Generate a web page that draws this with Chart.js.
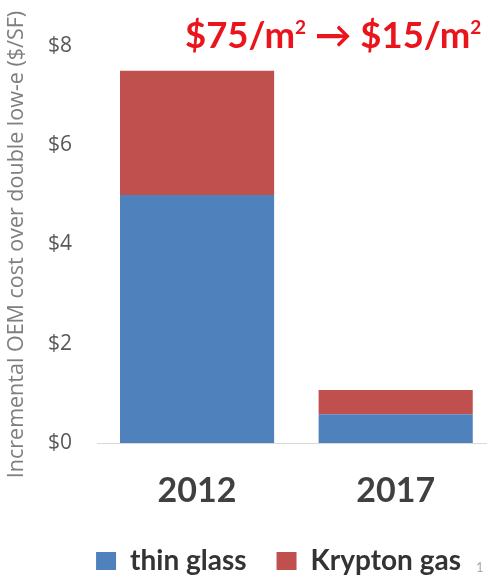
<!DOCTYPE html>
<html>
<head>
<meta charset="utf-8">
<script src="https://cdn.jsdelivr.net/npm/chart.js@4/dist/chart.umd.min.js"></script>
<style>
html,body{margin:0;padding:0;background:#fff;overflow:hidden;}
#wrap{position:relative;width:487px;height:576px;overflow:hidden;}
#title{position:absolute;left:185px;top:13px;font-family:Lato,"Liberation Sans",sans-serif;font-weight:bold;font-size:36.5px;line-height:1.2;color:#ea151c;white-space:nowrap;}
#title sup{font-size:19px;vertical-align:14px;line-height:0;}
#foot{position:absolute;left:476px;top:559px;font-family:Lato,sans-serif;font-size:13px;color:#aaa;}
</style>
</head>
<body>
<div id="wrap">
<canvas id="c" width="495" height="576"></canvas>
<div id="title">$75/m<sup>2</sup> &rarr; $15/m<sup>2</sup></div>
<div id="foot">1</div>
</div>
<script>
const categories = ["2012", "2017"];
const thinGlass = [5.0, 0.58];
const kryptonGas = [2.5, 0.49];
const yTicks = [0, 2, 4, 6, 8];
const yTitle = "Incremental OEM cost over double low-e ($/SF)";

const legendShift = {
  id: 'legendShift',
  afterLayout(chart) {
    const l = chart.legend;
    l.left += 31; l.right += 31;
    l.top += 9; l.bottom += 9;
  }
};

new Chart(document.getElementById('c'), {
  type: 'bar',
  data: {
    labels: categories,
    datasets: [
      {label: 'thin glass', data: thinGlass, backgroundColor: '#4f81bd'},
      {label: 'Krypton gas', data: kryptonGas, backgroundColor: '#c0504d'}
    ]
  },
  plugins: [legendShift],
  options: {
    responsive: false,
    animation: false,
    layout: {padding: {top: 46, right: 0, left: 0, bottom: 0}},
    datasets: {bar: {categoryPercentage: 0.776, barPercentage: 1}},
    plugins: {
      legend: {
        position: 'bottom',
        labels: {
          font: {family: 'Lato', size: 28, weight: 'bold'},
          color: '#333',
          boxWidth: 20, boxHeight: 18, padding: 30
        }
      },
      tooltip: {enabled: false}
    },
    scales: {
      x: {
        stacked: true,
        grid: {display: false},
        border: {color: '#d9d9d9'},
        ticks: {font: {family: 'Lato', size: 34, weight: 'bold'}, color: '#404040', padding: 20},
        afterFit: (axis) => { axis.height = 65; }
      },
      y: {
        stacked: true,
        min: 0, max: 8,
        afterBuildTicks: (axis) => { axis.ticks = yTicks.map(v => ({value: v})); },
        grid: {display: false},
        border: {display: false},
        ticks: {font: {family: 'Open Sans', size: 21}, color: '#595959', padding: 17.75, callback: v => '$' + v},
        title: {display: true, text: yTitle, font: {family: 'Open Sans', size: 21.5}, color: '#7f7f7f', padding: {top: 4, bottom: 0}},
        afterFit: (axis) => { axis.width = 97.75; }
      }
    }
  }
});
</script>
</body>
</html>
